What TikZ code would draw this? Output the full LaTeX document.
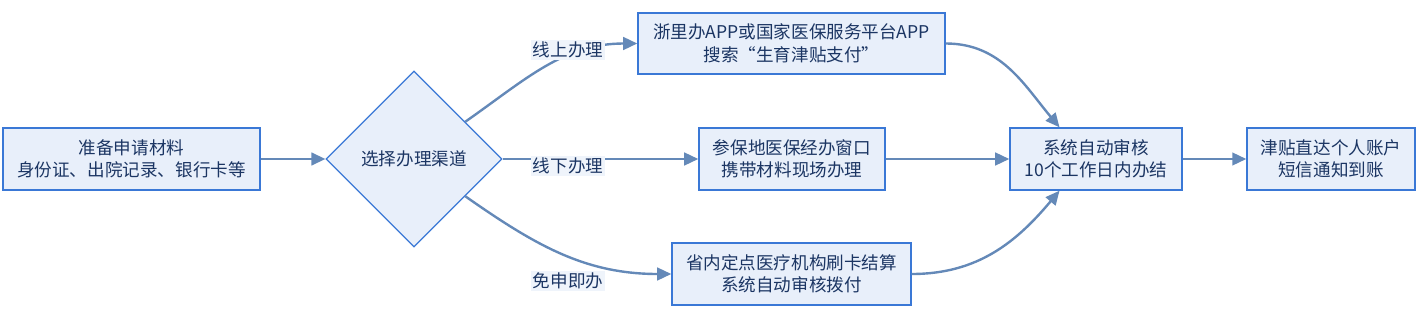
\documentclass[tikz,border=0pt]{standalone}
\usepackage{fontspec}
\setmainfont{Noto Sans CJK SC}
\usepackage{tikz}
\usetikzlibrary{arrows.meta, shapes.geometric}

\definecolor{boxfill}{HTML}{E8EFFA}
\definecolor{boxline}{HTML}{3A78D6}
\definecolor{txtblue}{HTML}{1B3563}
\definecolor{flow}{HTML}{6489B8}
\definecolor{lblfill}{HTML}{EFF4FB}

\begin{document}
\begin{tikzpicture}[
  font=\fontsize{12.5}{16}\selectfont, text=txtblue,
  stage/.style={draw=boxline, fill=boxfill, line width=1pt, align=center,
    inner sep=0pt, minimum height=1.55cm},
  choice/.style={diamond, aspect=1, draw=boxline, fill=boxfill, line width=0.8pt,
    minimum width=4.4cm, minimum height=4.4cm, inner sep=0pt},
  lbl/.style={fill=lblfill, inner sep=1pt},
  arrow/.style={-{Triangle[length=10pt, width=9pt]}, flow, line width=1.7pt},
]
  \useasboundingbox (0,0) rectangle (35.525,7.9);

  % Start + channel choice
  \node[stage, minimum width=6.425cm] (prep) at (3.2875, 3.925)
    {准备申请材料\\身份证、出院记录、银行卡等};
  \node[choice] (chan) at (10.35, 3.925) {选择办理渠道};

  % Three channels
  \node[stage, minimum width=7.675cm, minimum height=1.525cm] (app) at (19.7875, 6.8125)
    {浙里办APP或国家医保服务平台APP\\搜索“生育津贴支付”};
  \node[stage, minimum width=4.65cm] (desk) at (19.8, 3.925)
    {参保地医保经办窗口\\携带材料现场办理};
  \node[stage, minimum width=5.975cm] (card) at (19.7875, 1.05)
    {省内定点医疗机构刷卡结算\\系统自动审核拨付};

  % Review + payout
  \node[stage, minimum width=4.3cm] (audit) at (27.4, 3.925)
    {系统自动审核\\10个工作日内办结};
  \node[stage, minimum width=4.2cm] (paid) at (33.275, 3.925)
    {津贴直达个人账户\\短信通知到账};

  % Arrows
  \draw[arrow] (prep) -- (chan);
  \draw[arrow] (chan.36) to[out=35, in=180] (app.west);
  \draw[arrow] (chan.east) -- (desk.west);
  \draw[arrow] (chan.-36) to[out=-35, in=180] (card.west);
  \draw[arrow] (app.east) to[out=0, in=130] (audit.139);
  \draw[arrow] (desk.east) -- (audit.west);
  \draw[arrow] (card.east) to[out=0, in=-130] (audit.-139);
  \draw[arrow] (audit) -- (paid);

  % Channel labels
  \node[lbl] (online) at (14.2, 6.65) {线上办理};
  \node[lbl] (offline) at (14.2, 3.75) {线下办理};
  \node[lbl] (auto) at (14.2, 0.875) {免申即办};
\end{tikzpicture}
\end{document}
